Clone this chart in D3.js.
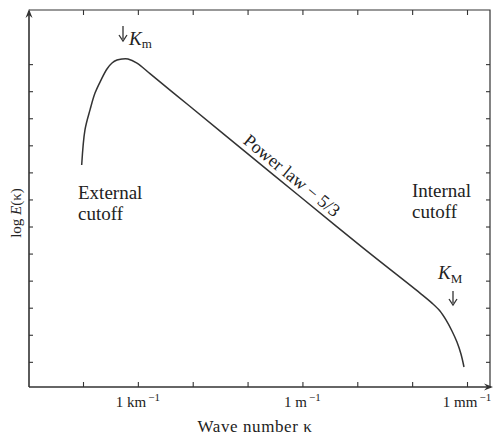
<!DOCTYPE html>
<html>
<head>
<meta charset="utf-8">
<script src="https://cdn.jsdelivr.net/npm/d3@7"></script>
<style>
  body { margin: 0; background: #fff; }
  text { font-family: "Liberation Serif", "DejaVu Serif", serif; fill: #222; }
</style>
</head>
<body>
<svg width="495" height="436"></svg>
<script>
// spectrum: log10 of wave number (1/m) and log E
var kappaExp = [-4.024, -3.964, -3.872, -3.781, -3.672, -3.563, -3.471, -3.380, -3.289, -3.180, -3.016, -2.779, -2.414, -2.086, -0.956, -0.045, 1.104, 2.143, 2.362, 2.507, 2.617, 2.726, 2.817, 2.890, 2.945];
var logE     = [8.27, 9.57, 10.31, 10.93, 11.41, 11.82, 12.04, 12.15, 12.19, 12.19, 12.04, 11.65, 11.04, 10.50, 8.62, 7.11, 5.21, 3.54, 3.17, 2.88, 2.55, 2.14, 1.73, 1.29, 0.81];
var xTicks = [1e-4, 1e-3, 1e-2, 1e-1, 1, 10, 100, 1000];
var xLabels = [{v: 1e-3, t: "1 km", s: "−1"}, {v: 1, t: "1 m", s: "−1"}, {v: 1000, t: "1 mm", s: "−1"}];
var yTicks = d3.range(1, 13);

var svg = d3.select("svg"),
    mLeft = 29, mRight = 490, mTop = 10, mBottom = 387;

var x = d3.scaleLog()
    .domain([Math.pow(10, -4 - 54 / 54.86), Math.pow(10, 3 + 23 / 54.86)])
    .range([mLeft, mRight]);
var y = d3.scaleLinear().domain([0.07, 14]).range([mBottom, mTop]);

var ink = "#333";

// frame
svg.append("path")
    .attr("d", "M" + mLeft + "," + mTop + "H" + mRight + "V" + mBottom)
    .attr("fill", "none").attr("stroke", ink).attr("stroke-width", 1.2);

// axes with inward ticks
var gb = svg.append("g").attr("transform", "translate(0," + mBottom + ")")
    .call(d3.axisTop(x).tickValues(xTicks).tickSize(5).tickFormat(""));
var gt = svg.append("g").attr("transform", "translate(0," + mTop + ")")
    .call(d3.axisBottom(x).tickValues(xTicks).tickSize(5).tickFormat(""));
var gl = svg.append("g").attr("transform", "translate(" + mLeft + ",0)")
    .call(d3.axisRight(y).tickValues(yTicks).tickSize(4).tickFormat(""));
var gr = svg.append("g").attr("transform", "translate(" + mRight + ",0)")
    .call(d3.axisLeft(y).tickValues(yTicks).tickSize(4).tickFormat(""));
[gb, gt, gl, gr].forEach(function(g) {
  g.select(".domain").remove();
  g.selectAll("line").attr("stroke", ink).attr("stroke-width", 1.1);
});

// main axis lines and arrow heads
svg.append("line").attr("x1", mLeft).attr("x2", mLeft).attr("y1", mBottom).attr("y2", mTop + 1)
    .attr("stroke", ink).attr("stroke-width", 1.6);
svg.append("line").attr("x1", mLeft).attr("x2", mRight + 1).attr("y1", mBottom).attr("y2", mBottom)
    .attr("stroke", ink).attr("stroke-width", 1.6);
svg.append("path")
    .attr("d", "M" + mLeft + "," + (mTop - 1) + "l-3.5,9 l3.5,-3 l3.5,3z")
    .attr("fill", ink);
svg.append("path")
    .attr("d", "M" + (mRight + 3) + "," + mBottom + "l-9,-3.5 l3,3.5 l-3,3.5z")
    .attr("fill", ink);

// tick labels
xLabels.forEach(function(d) {
  var t = svg.append("text")
      .attr("x", x(d.v)).attr("y", mBottom + 20)
      .attr("text-anchor", "middle").attr("font-size", 15);
  t.append("tspan").text(d.t);
  t.append("tspan").attr("dy", -6).attr("dx", 2).attr("font-size", 11).text(d.s);
});

// axis titles
svg.append("text")
    .attr("x", 255).attr("y", 432)
    .attr("text-anchor", "middle").attr("font-size", 17).attr("letter-spacing", 0.6)
    .text("Wave number κ");
var yl = svg.append("text")
    .attr("transform", "translate(21,213) rotate(-90)")
    .attr("text-anchor", "middle").attr("font-size", 15);
yl.append("tspan").text("log ");
yl.append("tspan").attr("font-style", "italic").text("E");
yl.append("tspan").text("(κ)");

// spectrum curve
var pts = kappaExp.map(function(k, i) { return [Math.pow(10, k), logE[i]]; });
svg.append("path")
    .datum(pts)
    .attr("fill", "none").attr("stroke", ink).attr("stroke-width", 1.5)
    .attr("d", d3.line()
        .x(function(d) { return x(d[0]); })
        .y(function(d) { return y(d[1]); })
        .curve(d3.curveCatmullRom.alpha(0.5)));

// power law label along the straight part
var i0 = 13, i1 = 16;
var p0 = pts[i0], p1 = pts[i1];
var ang = Math.atan2(y(p1[1]) - y(p0[1]), x(p1[0]) - x(p0[0])) * 180 / Math.PI;
var lk = -0.32;
var me = p0[1] + (p1[1] - p0[1]) * (lk - kappaExp[i0]) / (kappaExp[i1] - kappaExp[i0]);
svg.append("text")
    .attr("transform", "translate(" + x(Math.pow(10, lk)) + "," + y(me) + ") rotate(" + ang + ")")
    .attr("y", -5)
    .attr("text-anchor", "middle").attr("font-size", 18)
    .text("Power law − 5/3");

// cutoff notes
function note(px, py, lines) {
  var t = svg.append("text").attr("x", px).attr("y", py).attr("font-size", 19);
  lines.forEach(function(l, i) {
    t.append("tspan").attr("x", px).attr("dy", i ? 21 : 0).text(l);
  });
}
note(78, 199, ["External", "cutoff"]);
note(412, 197, ["Internal", "cutoff"]);

// down arrows
function arrow(ax, y0, y1) {
  svg.append("line").attr("x1", ax).attr("x2", ax).attr("y1", y0).attr("y2", y1 - 2)
      .attr("stroke", ink).attr("stroke-width", 1.3);
  svg.append("path")
      .attr("d", "M" + (ax - 4) + "," + (y1 - 6) + "L" + ax + "," + y1 + "L" + (ax + 4) + "," + (y1 - 6))
      .attr("fill", "none").attr("stroke", ink).attr("stroke-width", 1.3);
}
arrow(123, 26, 41);
arrow(453, 291, 305);

// K markers
var km = svg.append("text").attr("x", 129).attr("y", 45).attr("font-size", 19);
km.append("tspan").attr("font-style", "italic").text("K");
km.append("tspan").attr("dy", 3).attr("font-size", 13).text("m");

var kM = svg.append("text").attr("x", 438).attr("y", 279).attr("font-size", 19);
kM.append("tspan").attr("font-style", "italic").text("K");
kM.append("tspan").attr("dy", 4).attr("font-size", 13).text("M");
</script>
</body>
</html>
